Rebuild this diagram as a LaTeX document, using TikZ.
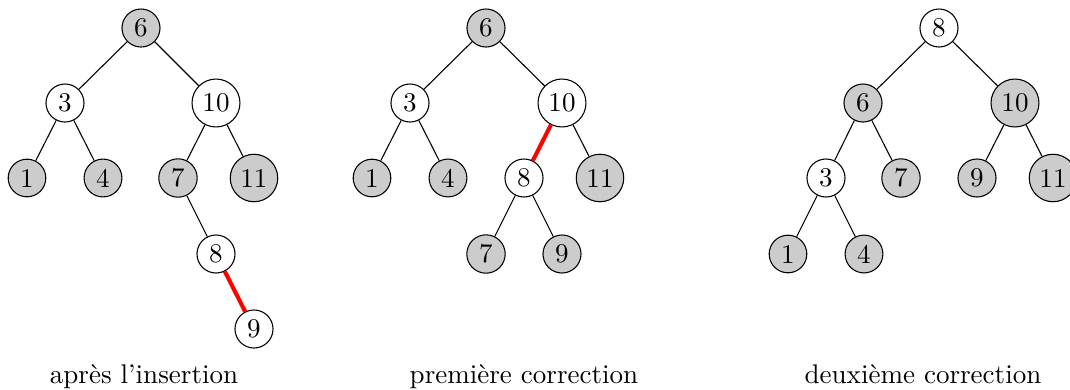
\documentclass[tikz,border=0pt]{standalone}
\begin{document}
\begin{tikzpicture}[x=0.37pt, y=-0.37pt,
  vtx/.style={circle, draw, inner sep=2pt, minimum size=0pt, fill=white},
  blk/.style={vtx, fill=black!20},
  edge/.style={draw, thin},
  redge/.style={draw=red, line width=1.5pt},
  caption/.style={inner sep=0pt, anchor=base}]
\useasboundingbox (0,0) rectangle (1070,390);

% tree after insertion
\node[blk] (a6)  at (141,28)  {6};
\node[vtx] (a3)  at (65,103)  {3};
\node[vtx] (a10) at (216,103) {10};
\node[blk] (a1)  at (27,178)  {1};
\node[blk] (a4)  at (103,178) {4};
\node[blk] (a7)  at (178,178) {7};
\node[blk] (a11) at (254,178) {11};
\node[vtx] (a8)  at (216,254) {8};
\node[vtx] (a9)  at (254,329) {9};
\draw[edge] (a6) -- (a3);
\draw[edge] (a6) -- (a10);
\draw[edge] (a3) -- (a1);
\draw[edge] (a3) -- (a4);
\draw[edge] (a10) -- (a7);
\draw[edge] (a10) -- (a11);
\draw[edge] (a7) -- (a8);
\draw[redge] (a8) -- (a9);
\node[caption] (capa) at (144,383) {après l’insertion};

% tree after first rotation
\node[blk] (b6)  at (486,28)  {6};
\node[vtx] (b3)  at (410,103) {3};
\node[vtx] (b10) at (562,103) {10};
\node[blk] (b1)  at (372,178) {1};
\node[blk] (b4)  at (448,178) {4};
\node[vtx] (b8)  at (524,178) {8};
\node[blk] (b11) at (600,178) {11};
\node[blk] (b7)  at (486,254) {7};
\node[blk] (b9)  at (562,254) {9};
\draw[edge] (b6) -- (b3);
\draw[edge] (b6) -- (b10);
\draw[edge] (b3) -- (b1);
\draw[edge] (b3) -- (b4);
\draw[redge] (b10) -- (b8);
\draw[edge] (b10) -- (b11);
\draw[edge] (b8) -- (b7);
\draw[edge] (b8) -- (b9);
\node[caption] (capb) at (524,383) {première correction};

% tree after second rotation
\node[vtx] (c8)  at (939,28)  {8};
\node[blk] (c6)  at (863,103) {6};
\node[blk] (c10) at (1015,103) {10};
\node[vtx] (c3)  at (826,178) {3};
\node[blk] (c7)  at (901,178) {7};
\node[blk] (c9)  at (977,178) {9};
\node[blk] (c11) at (1053,178) {11};
\node[blk] (c1)  at (788,254) {1};
\node[blk] (c4)  at (864,254) {4};
\draw[edge] (c8) -- (c6);
\draw[edge] (c8) -- (c10);
\draw[edge] (c6) -- (c3);
\draw[edge] (c6) -- (c7);
\draw[edge] (c10) -- (c9);
\draw[edge] (c10) -- (c11);
\draw[edge] (c3) -- (c1);
\draw[edge] (c3) -- (c4);
\node[caption] (capc) at (923,383) {deuxième correction};
\end{tikzpicture}
\end{document}
